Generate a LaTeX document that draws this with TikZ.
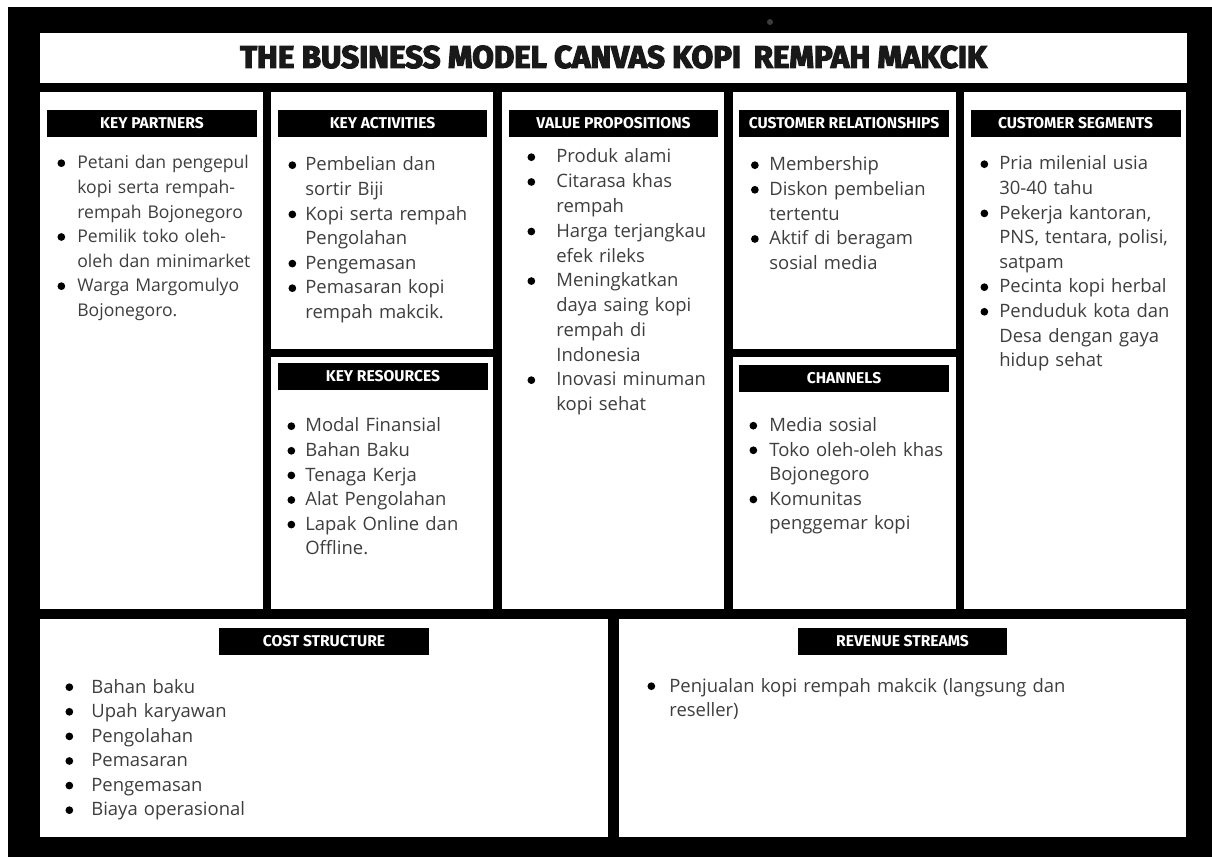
\documentclass[tikz,border=0pt]{standalone}
\usepackage{fontspec}
\setmainfont{Open Sans}
\newfontfamily\headfont{Fira Sans}
\newfontfamily\titlefont[FakeBold=4]{Fira Sans}
\usepackage{tikz}

\definecolor{ink}{HTML}{3E3E3E}
\definecolor{cam}{HTML}{3C3C3C}

\newlength\pxu \setlength\pxu{0.02cm}
\newlength\dotgap
% bullet dot, hung left of the line it starts
\newcommand\bul{\leavevmode\llap{\makebox[\dotgap][c]{\tikz[baseline=-3.3pt]\fill[black] (0,0) circle (2.2pt);}}}

\tikzset{title/.style={text=black!90, font=\titlefont\bfseries\fontsize{17.8}{20}\selectfont, inner sep=0pt},
         bar/.style={fill=black, text=white, font=\headfont\bfseries\fontsize{8.9}{10}\selectfont, minimum width=4.2cm, minimum height=0.54cm, inner sep=0pt},
         list/.style={anchor=base west, inner sep=0pt, text width=4.2cm, align=left, text=ink, font=\fontsize{10.5}{14}\selectfont, execute at begin node={\setlength\dotgap{#1}}}}

\begin{document}
\begin{tikzpicture}[x=0.02cm,y=-0.02cm]
    \useasboundingbox (0,0) rectangle (1212,857);
    \fill[black] (8,7) rectangle (1212,857);
    \fill[cam] (770,22) circle (3);

    % title strip
    \fill[white] (40,33) rectangle (1187,83);
    \node[title](title)at(613.5,57){THE BUSINESS MODEL CANVAS KOPI\, REMPAH MAKCIK};

    % the nine blocks
    \fill[white] (40,92) rectangle (263,609);
    \fill[white] (271,92) rectangle (493,349);
    \fill[white] (271,357) rectangle (493,609);
    \fill[white] (502,92) rectangle (724,609);
    \fill[white] (733,92) rectangle (956,349);
    \fill[white] (733,357) rectangle (956,609);
    \fill[white] (964,92) rectangle (1186,609);
    \fill[white] (40,619) rectangle (608,837);
    \fill[white] (619,619) rectangle (1186,837);

    % headings
    \node[bar](kph)at(152,123.5){KEY PARTNERS};
    \node[bar](kah)at(382.5,123.5){KEY ACTIVITIES};
    \node[bar](vph)at(613.5,123.5){VALUE PROPOSITIONS};
    \node[bar](crh)at(844,123.5){CUSTOMER RELATIONSHIPS};
    \node[bar](csh)at(1075.5,123.5){CUSTOMER SEGMENTS};
    \node[bar](krh)at(383,376.5){KEY RESOURCES};
    \node[bar](chh)at(844,378.5){CHANNELS};
    \node[bar](cost)at(324,641.5){COST STRUCTURE};
    \node[bar](rev)at(902.5,641.5){REVENUE STREAMS};

    % contents
    \node[list=32\pxu, font=\fontsize{10}{14}\selectfont](kp)at(77,169){%
        \bul Petani dan pengepul\\ kopi serta rempah-\\ rempah Bojonegoro\\
        \bul Pemilik toko oleh-\\ oleh dan minimarket\\
        \bul Warga Margomulyo\\ Bojonegoro.};
    \node[list=26\pxu](ka)at(305,171){%
        \bul Pembelian dan\\ sortir Biji\\
        \bul Kopi serta rempah\\ Pengolahan\\
        \bul Pengemasan\\
        \bul Pemasaran kopi\\ rempah makcik.};
    \node[list=50\pxu, font=\fontsize{10.5}{14.1}\selectfont](vp)at(556,163){%
        \bul Produk alami\\
        \bul Citarasa khas\\ rempah\\
        \bul Harga terjangkau\\ efek rileks\\
        \bul Meningkatkan\\ daya saing kopi\\ rempah di\\ Indonesia\\
        \bul Inovasi minuman\\ kopi sehat};
    \node[list=29\pxu](cr)at(769,171){%
        \bul Membership\\
        \bul Diskon pembelian\\ tertentu\\
        \bul Aktif di beragam\\ sosial media};
    \node[list=30\pxu](cs)at(999,170){%
        \bul Pria milenial usia\\ 30-40 tahu\\
        \bul Pekerja kantoran,\\ PNS, tentara, polisi,\\ satpam\\
        \bul Pecinta kopi herbal\\
        \bul Penduduk kota dan\\ Desa dengan gaya\\ hidup sehat};
    \node[list=28\pxu](kr)at(305,432){%
        \bul Modal Finansial\\
        \bul Bahan Baku\\
        \bul Tenaga Kerja\\
        \bul Alat Pengolahan\\
        \bul Lapak Online dan\\ Offline.};
    \node[list=32\pxu](ch)at(769,431.5){%
        \bul Media sosial\\
        \bul Toko oleh-oleh khas\\ Bojonegoro\\
        \bul Komunitas\\ penggemar kopi};
    \node[list=44\pxu](cst)at(91,693){%
        \bul Bahan baku\\
        \bul Upah karyawan\\
        \bul Pengolahan\\
        \bul Pemasaran\\
        \bul Pengemasan\\
        \bul Biaya operasional};
    \node[list=36\pxu, text width=9cm](rs)at(669,692){%
        \bul Penjualan kopi rempah makcik (langsung dan\\ reseller)};
\end{tikzpicture}
\end{document}
